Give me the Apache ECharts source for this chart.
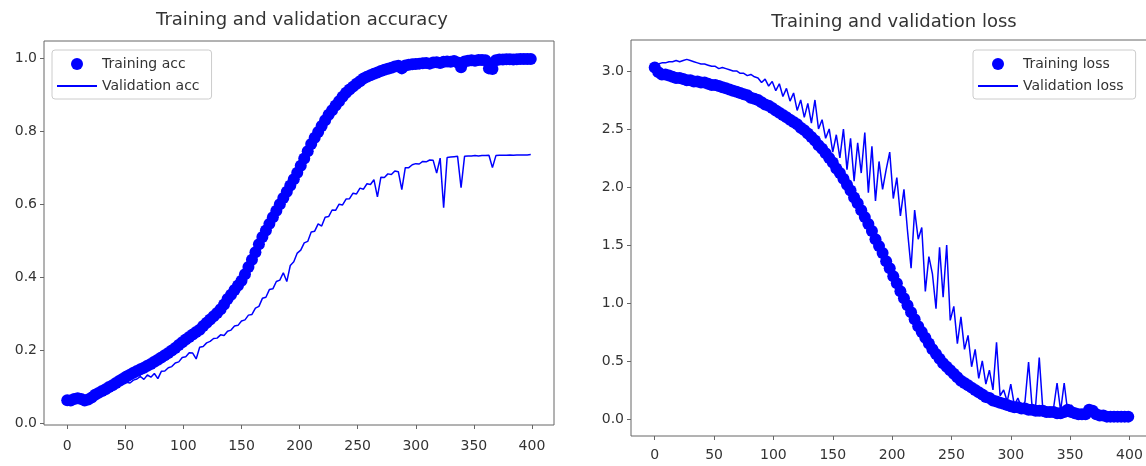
<!DOCTYPE html>
<html>
<head>
<meta charset="utf-8">
<script src="https://cdn.jsdelivr.net/npm/echarts@6/dist/echarts.min.js"></script>
<style>
  html, body { margin: 0; padding: 0; background: #fff; }
  #main { width: 1146px; height: 466px; }
</style>
</head>
<body>
<div id="main"></div>
<script>
// epochs sampled every 3rd epoch, 0..399
const epochs = [];
for (let e = 0; e <= 399; e += 3) epochs.push(e);

const xTicks = [0, 50, 100, 150, 200, 250, 300, 350, 400];
const accTicks = [0, 0.2, 0.4, 0.6, 0.8, 1.0];
const lossTicks = [0, 0.5, 1.0, 1.5, 2.0, 2.5, 3.0];

const trainAcc = [
  0.063, 0.062, 0.066, 0.068, 0.066, 0.062, 0.065, 0.070, 0.078, 0.083,
  0.088, 0.093, 0.099, 0.104, 0.110, 0.116, 0.122, 0.128, 0.133, 0.138,
  0.143, 0.148, 0.152, 0.157, 0.162, 0.168, 0.174, 0.180, 0.186, 0.192,
  0.199, 0.206, 0.214, 0.222, 0.229, 0.236, 0.243, 0.250, 0.256, 0.266,
  0.275, 0.284, 0.293, 0.302, 0.312, 0.325, 0.340, 0.352, 0.365, 0.377,
  0.390, 0.408, 0.428, 0.448, 0.468, 0.490, 0.510, 0.528, 0.546, 0.564,
  0.582, 0.600, 0.617, 0.634, 0.651, 0.668, 0.686, 0.705, 0.725, 0.745,
  0.765, 0.782, 0.798, 0.814, 0.830, 0.845, 0.857, 0.870, 0.882, 0.894,
  0.905, 0.914, 0.922, 0.930, 0.937, 0.944, 0.949, 0.953, 0.957, 0.961,
  0.965, 0.968, 0.971, 0.974, 0.977, 0.979, 0.972, 0.980, 0.982, 0.983,
  0.984, 0.985, 0.986, 0.987, 0.985, 0.988, 0.989, 0.987, 0.990, 0.991,
  0.990, 0.992, 0.988, 0.975, 0.991, 0.993, 0.994, 0.993, 0.995, 0.995,
  0.994, 0.972, 0.970, 0.994, 0.996, 0.996, 0.997, 0.997, 0.996, 0.997,
  0.998, 0.998, 0.998, 0.998
];

const valAcc = [
  0.060, 0.062, 0.058, 0.062, 0.060, 0.055, 0.058, 0.064, 0.070, 0.074,
  0.080, 0.084, 0.090, 0.093, 0.099, 0.103, 0.107, 0.112, 0.110, 0.118,
  0.121, 0.128, 0.120, 0.132, 0.126, 0.136, 0.122, 0.142, 0.143, 0.152,
  0.155, 0.165, 0.168, 0.180, 0.182, 0.193, 0.192, 0.176, 0.208, 0.210,
  0.220, 0.224, 0.232, 0.233, 0.242, 0.240, 0.252, 0.255, 0.266, 0.268,
  0.280, 0.283, 0.296, 0.298, 0.315, 0.320, 0.342, 0.345, 0.366, 0.368,
  0.388, 0.392, 0.412, 0.388, 0.432, 0.442, 0.466, 0.474, 0.494, 0.498,
  0.524, 0.526, 0.546, 0.540, 0.564, 0.566, 0.584, 0.583, 0.600, 0.598,
  0.614, 0.615, 0.630, 0.628, 0.644, 0.641, 0.656, 0.654, 0.667, 0.620,
  0.674, 0.673, 0.683, 0.681, 0.691, 0.689, 0.640, 0.700, 0.700, 0.708,
  0.711, 0.710, 0.717, 0.716, 0.721, 0.720, 0.685, 0.726, 0.590, 0.728,
  0.729, 0.730, 0.731, 0.645, 0.731, 0.732, 0.732, 0.733, 0.732, 0.733,
  0.733, 0.734, 0.700, 0.733, 0.734, 0.734, 0.734, 0.735, 0.734, 0.735,
  0.735, 0.735, 0.735, 0.736
];

const trainLoss = [
  3.03, 2.99, 2.97, 2.97, 2.96, 2.95, 2.94, 2.94, 2.93, 2.92,
  2.92, 2.91, 2.91, 2.90, 2.90, 2.89, 2.88, 2.88, 2.87, 2.86,
  2.85, 2.84, 2.83, 2.82, 2.81, 2.80, 2.79, 2.77, 2.76, 2.75,
  2.73, 2.71, 2.70, 2.68, 2.66, 2.64, 2.62, 2.60, 2.58, 2.56,
  2.54, 2.51, 2.49, 2.46, 2.43, 2.40, 2.36, 2.33, 2.29, 2.25,
  2.21, 2.16, 2.12, 2.07, 2.02, 1.97, 1.91, 1.86, 1.80, 1.74,
  1.68, 1.62, 1.55, 1.49, 1.43, 1.36, 1.30, 1.23, 1.17, 1.10,
  1.04, 0.98, 0.92, 0.86, 0.80, 0.75, 0.70, 0.65, 0.60, 0.56,
  0.52, 0.48, 0.45, 0.42, 0.39, 0.36, 0.33, 0.31, 0.29, 0.27,
  0.25, 0.23, 0.21, 0.19, 0.18, 0.16, 0.15, 0.14, 0.13, 0.12,
  0.11, 0.10, 0.10, 0.09, 0.09, 0.08, 0.08, 0.07, 0.07, 0.07,
  0.06, 0.06, 0.06, 0.05, 0.05, 0.06, 0.08, 0.06, 0.05, 0.04,
  0.04, 0.04, 0.08, 0.07, 0.04, 0.03, 0.03, 0.02, 0.02, 0.02,
  0.02, 0.02, 0.02, 0.02
];

const valLoss = [
  3.04, 3.06, 3.07, 3.07, 3.08, 3.08, 3.09, 3.08, 3.09, 3.10,
  3.09, 3.08, 3.07, 3.06, 3.06, 3.05, 3.04, 3.04, 3.02, 3.03,
  3.02, 3.01, 3.00, 3.00, 2.98, 2.98, 2.96, 2.97, 2.95, 2.94,
  2.90, 2.93, 2.87, 2.91, 2.83, 2.89, 2.78, 2.85, 2.74, 2.81,
  2.66, 2.75, 2.60, 2.72, 2.55, 2.75, 2.50, 2.58, 2.42, 2.50,
  2.30, 2.45, 2.25, 2.50, 2.15, 2.42, 2.05, 2.38, 2.12, 2.47,
  1.95, 2.35, 1.88, 2.22, 1.98, 2.15, 2.30, 1.90, 2.08, 1.75,
  1.98, 1.62, 1.30, 1.80, 1.55, 1.65, 1.10, 1.40, 1.25, 0.95,
  1.48, 1.05, 1.50, 0.85, 0.97, 0.65, 0.88, 0.60, 0.72, 0.45,
  0.60, 0.35, 0.50, 0.30, 0.42, 0.25, 0.66, 0.20, 0.25, 0.15,
  0.30, 0.12, 0.18, 0.10, 0.15, 0.49, 0.10, 0.12, 0.53, 0.08,
  0.10, 0.07, 0.09, 0.31, 0.07, 0.31, 0.06, 0.12, 0.08, 0.06,
  0.05, 0.07, 0.10, 0.08, 0.05, 0.04, 0.03, 0.04, 0.03, 0.03,
  0.02, 0.03, 0.02, 0.02
];

function pairs(ys) {
  return epochs.map((e, i) => [e, ys[i]]);
}

const blue = '#0000ff';
const textColor = '#333';
const frameColor = '#666';
const font = 'DejaVu Sans';

function xAxisFor(gridIndex, margin) {
  return {
    type: 'value', gridIndex: gridIndex, min: -20, max: 419,
    axisLine: { show: false, onZero: false }, splitLine: { show: false },
    axisTick: { show: true, customValues: xTicks, length: 4, lineStyle: { color: frameColor } },
    axisLabel: { customValues: xTicks, margin: margin, color: textColor, fontSize: 14, fontFamily: font }
  };
}

function yAxisFor(gridIndex, min, max, ticks) {
  return {
    type: 'value', gridIndex: gridIndex, min: min, max: max,
    axisLine: { show: false, onZero: false }, splitLine: { show: false },
    axisTick: { show: true, customValues: ticks, length: 4, lineStyle: { color: frameColor } },
    axisLabel: {
      customValues: ticks, margin: 7, color: textColor, fontSize: 14, fontFamily: font,
      formatter: v => v.toFixed(1)
    }
  };
}

function legendFor(left, names) {
  return {
    left: left, top: 50, orient: 'vertical',
    data: [
      { name: names[0], icon: 'circle' },
      { name: names[1], icon: 'path://M0,0H40V2H0Z' }
    ],
    itemWidth: 40, itemHeight: 12, itemGap: 8,
    padding: [7, 12, 6, 5],
    borderColor: '#ccc', borderWidth: 1, borderRadius: 3,
    backgroundColor: 'rgba(255,255,255,0.8)',
    textStyle: { fontSize: 14, color: textColor, fontFamily: font }
  };
}

const chart = echarts.init(document.getElementById('main'));
chart.setOption({
  animation: false,
  backgroundColor: '#fff',
  title: [
    { text: 'Training and validation accuracy', left: 297, top: 6, textAlign: 'center',
      textStyle: { fontSize: 18, fontWeight: 'normal', color: textColor, fontFamily: font } },
    { text: 'Training and validation loss', left: 889, top: 8, textAlign: 'center',
      textStyle: { fontSize: 18, fontWeight: 'normal', color: textColor, fontFamily: font } }
  ],
  legend: [
    legendFor(52, ['Training acc', 'Validation acc']),
    legendFor(973, ['Training loss', 'Validation loss'])
  ],
  grid: [
    { left: 44, top: 41, width: 510, height: 384, show: true, borderColor: frameColor, borderWidth: 1,
      containLabel: false, outerBoundsMode: 'none' },
    { left: 631, top: 40, width: 521, height: 396, show: true, borderColor: frameColor, borderWidth: 1,
      containLabel: false, outerBoundsMode: 'none' }
  ],
  xAxis: [xAxisFor(0, 14), xAxisFor(1, 12)],
  yAxis: [
    yAxisFor(0, -0.005, 1.047, accTicks),
    yAxisFor(1, -0.147, 3.267, lossTicks)
  ],
  series: [
    { name: 'Training acc', type: 'scatter', xAxisIndex: 0, yAxisIndex: 0,
      data: pairs(trainAcc), symbolSize: 12, itemStyle: { color: blue, opacity: 1 } },
    { name: 'Validation acc', type: 'line', xAxisIndex: 0, yAxisIndex: 0,
      data: pairs(valAcc), showSymbol: false, lineStyle: { color: blue, width: 1.5 }, itemStyle: { color: blue } },
    { name: 'Training loss', type: 'scatter', xAxisIndex: 1, yAxisIndex: 1,
      data: pairs(trainLoss), symbolSize: 12, itemStyle: { color: blue, opacity: 1 } },
    { name: 'Validation loss', type: 'line', xAxisIndex: 1, yAxisIndex: 1,
      data: pairs(valLoss), showSymbol: false, lineStyle: { color: blue, width: 1.5 }, itemStyle: { color: blue } }
  ]
});
</script>
</body>
</html>
